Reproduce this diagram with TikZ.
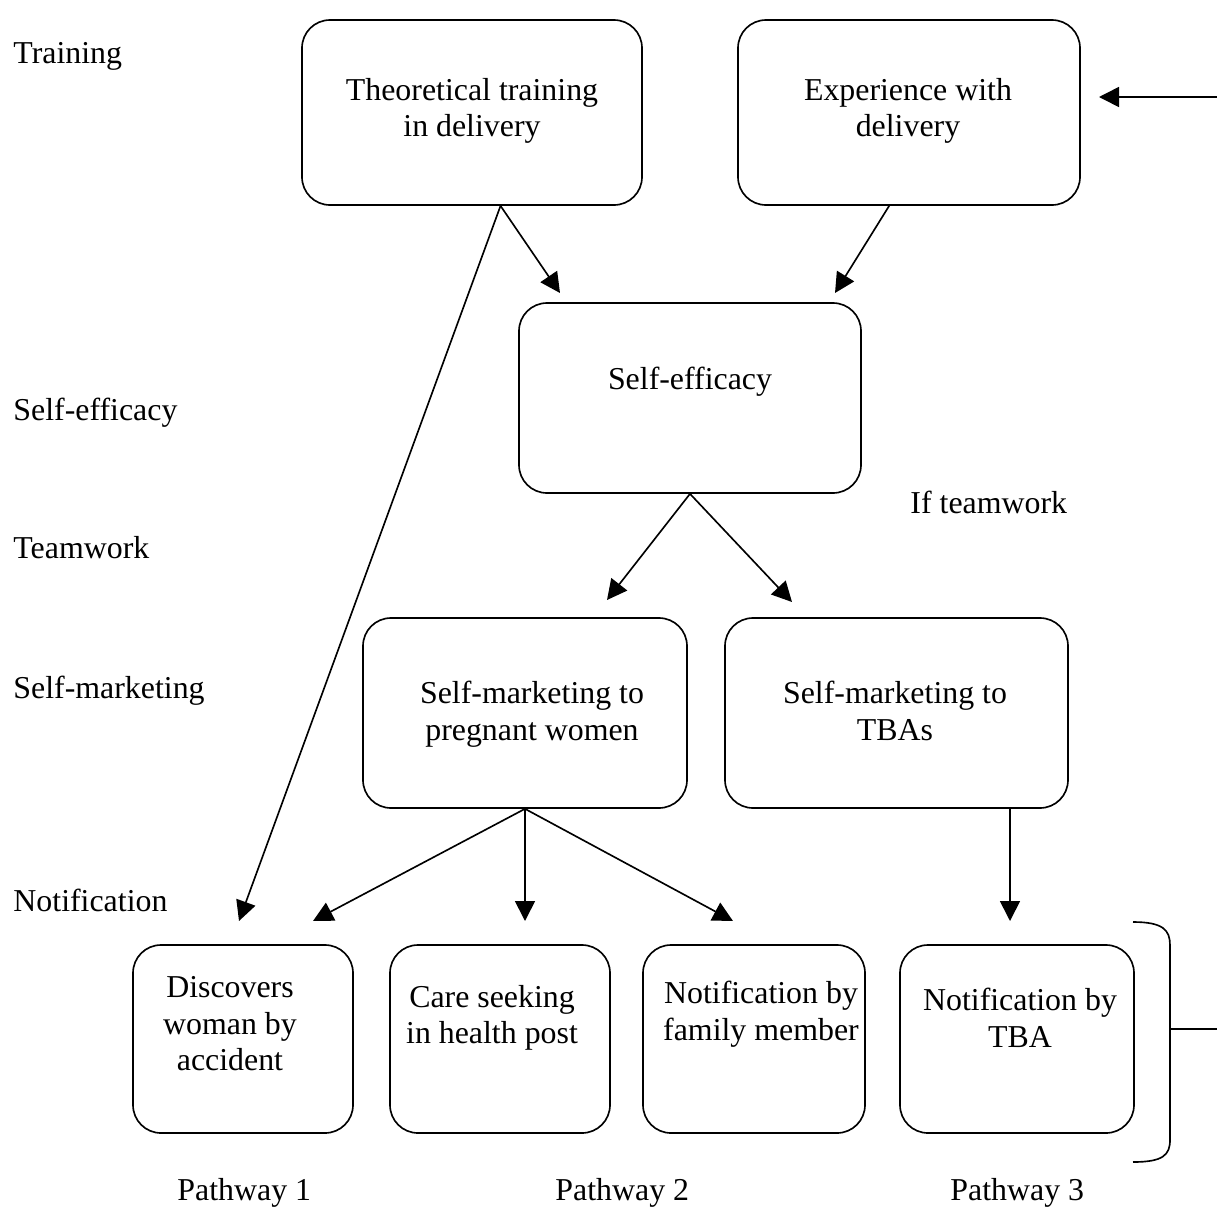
\documentclass[tikz,border=0pt]{standalone}
\usepackage{fontspec}
\setmainfont{Liberation Serif}
\usetikzlibrary{arrows.meta}
\tikzstyle{box} = [draw, rounded corners=0.42cm, line width=0.7pt]
\tikzstyle{txt} = [align=center, inner sep=0pt, font=\fontsize{13.6}{15.6}\selectfont]
\tikzstyle{side} = [anchor=base west, inner sep=0pt, font=\fontsize{13.6}{15.6}\selectfont]
\tikzstyle{arr} = [-{Triangle[length=0.3cm,width=0.3cm]}, line width=0.7pt]

\begin{document}
\begin{tikzpicture}[x=0.015cm, y=-0.015cm]
	\useasboundingbox (0,0) rectangle (1217,1218);
	% level names
	\node[side] (l-train) at (13,63) {Training};
	\node[side] (l-eff) at (13,420) {Self-efficacy};
	\node[side] (l-team) at (13,558) {Teamwork};
	\node[side] (l-mkt) at (13,698) {Self-marketing};
	\node[side] (l-notif) at (13,911) {Notification};
	\node[side] (l-if) at (910,513) {If teamwork};
	% boxes
	\node[box, minimum width=5.1cm, minimum height=2.775cm] (theo) at (472,112.5) {};
	\node[txt] (theo-t) at (472,111) {Theoretical training\\in delivery};
	\node[box, minimum width=5.13cm, minimum height=2.775cm] (exper) at (909,112.5) {};
	\node[txt] (exper-t) at (908,111) {Experience with\\delivery};
	\node[box, minimum width=5.13cm, minimum height=2.85cm] (eff) at (690,398) {};
	\node[txt] (eff-t) at (690,382) {Self-efficacy};
	\node[box, minimum width=4.86cm, minimum height=2.85cm] (mktw) at (525,713) {};
	\node[txt] (mktw-t) at (532,714) {Self-marketing to\\pregnant women};
	\node[box, minimum width=5.145cm, minimum height=2.85cm] (mktt) at (896.5,713) {};
	\node[txt] (mktt-t) at (895,711) {Self-marketing to\\TBAs};
	\node[box, minimum width=3.3cm, minimum height=2.82cm] (disc) at (243,1039) {};
	\node[txt] (disc-t) at (230,1024) {Discovers\\woman by\\accident};
	\node[box, minimum width=3.3cm, minimum height=2.82cm] (care) at (500,1039) {};
	\node[txt] (care-t) at (492,1018) {Care seeking\\in health post};
	\node[box, minimum width=3.33cm, minimum height=2.82cm] (fam) at (754,1039) {};
	\node[txt] (fam-t) at (761,1014) {Notification by\\family member};
	\node[box, minimum width=3.51cm, minimum height=2.82cm] (tba) at (1017,1039) {};
	\node[txt] (tba-t) at (1020,1018) {Notification by\\TBA};
	% pathways
	\node[side] (p1) at (177,1200) {Pathway 1};
	\node[side] (p2) at (555,1200) {Pathway 2};
	\node[side] (p3) at (950,1200) {Pathway 3};
	% arrow ends
	\coordinate (eff-in1) at (560,293);
	\coordinate (eff-in2) at (835,293);
	\coordinate (mktw-in) at (607,600);
	\coordinate (mktt-in) at (792,602);
	\coordinate (disc-in1) at (239,921);
	\coordinate (disc-in2) at (313,921);
	\coordinate (care-in) at (525,921);
	\coordinate (fam-in) at (733,921);
	\coordinate (tba-in) at (1010,921);
	\coordinate (exper-src) at (1217,97);
	\coordinate (exper-in) at (1099,97);
	\draw[arr] (theo.-73) -- (eff-in1);
	\draw[arr] (theo.-73) -- (disc-in1);
	\draw[arr] (exper.-102) -- (eff-in2);
	\draw[arr] (exper-src) -- (exper-in);
	\draw[arr] (eff.south) -- (mktw-in);
	\draw[arr] (eff.south) -- (mktt-in);
	\draw[arr] (mktw.south) -- (disc-in2);
	\draw[arr] (mktw.south) -- (care-in);
	\draw[arr] (mktw.south) -- (fam-in);
	\draw[arr] (mktt.south -| tba-in) -- (tba-in);
	% bracket
	\draw[line width=0.7pt] (1133,922) .. controls (1163,922) and (1170,930) .. (1170,945)
		-- (1170,1140) .. controls (1170,1155) and (1163,1162) .. (1133,1162);
	\draw[line width=0.7pt] (1170,1029) -- (1217,1029);
\end{tikzpicture}
\end{document}
